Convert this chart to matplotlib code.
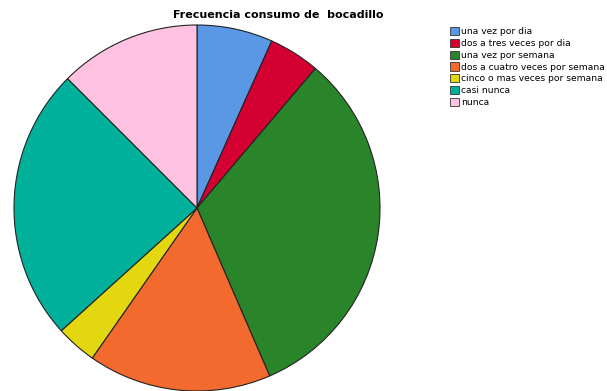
import matplotlib.pyplot as plt
from matplotlib.patches import Patch

# Data (percent of responses)
categories = [
    "una vez por dia",
    "dos a tres veces por dia",
    "una vez por semana",
    "dos a cuatro veces por semana",
    "cinco o mas veces por semana",
    "casi nunca",
    "nunca",
]
values = [6.7, 4.5, 32.3, 16.2, 3.6, 24.2, 12.5]
colors = ["#5A97E4", "#D50032", "#2A852A", "#F26A2E", "#E3D70F", "#00B09B", "#FFC2E1"]

fig = plt.figure(figsize=(6.07, 3.91), dpi=100)

# pie axes placed in pixel terms: pie spans x 14..380, y 25..391
ax = fig.add_axes([14 / 607, 0, 366 / 607, 366 / 391])
ax.pie(values, colors=colors, startangle=90, counterclock=False, radius=1,
       wedgeprops={"edgecolor": "#222222", "linewidth": 0.8})
ax.set_xlim(-1, 1)
ax.set_ylim(-1, 1)
ax.set_aspect("equal")
ax.axis("off")

fig.text(278 / 607, 1 - 15 / 391, "Frecuencia consumo de  bocadillo",
         ha="center", va="center", fontsize=8, fontweight="bold")

handles = [Patch(facecolor=c, edgecolor="#333333", linewidth=0.6) for c in colors]
fig.legend(handles, categories, loc="upper left",
           bbox_to_anchor=(450 / 607, 1 - 27 / 391), frameon=False,
           fontsize=6.6, handlelength=0.95, handleheight=1.0,
           handletextpad=0.25, labelspacing=0.28, borderpad=0, borderaxespad=0)

fig.savefig("out.png", dpi=100)
